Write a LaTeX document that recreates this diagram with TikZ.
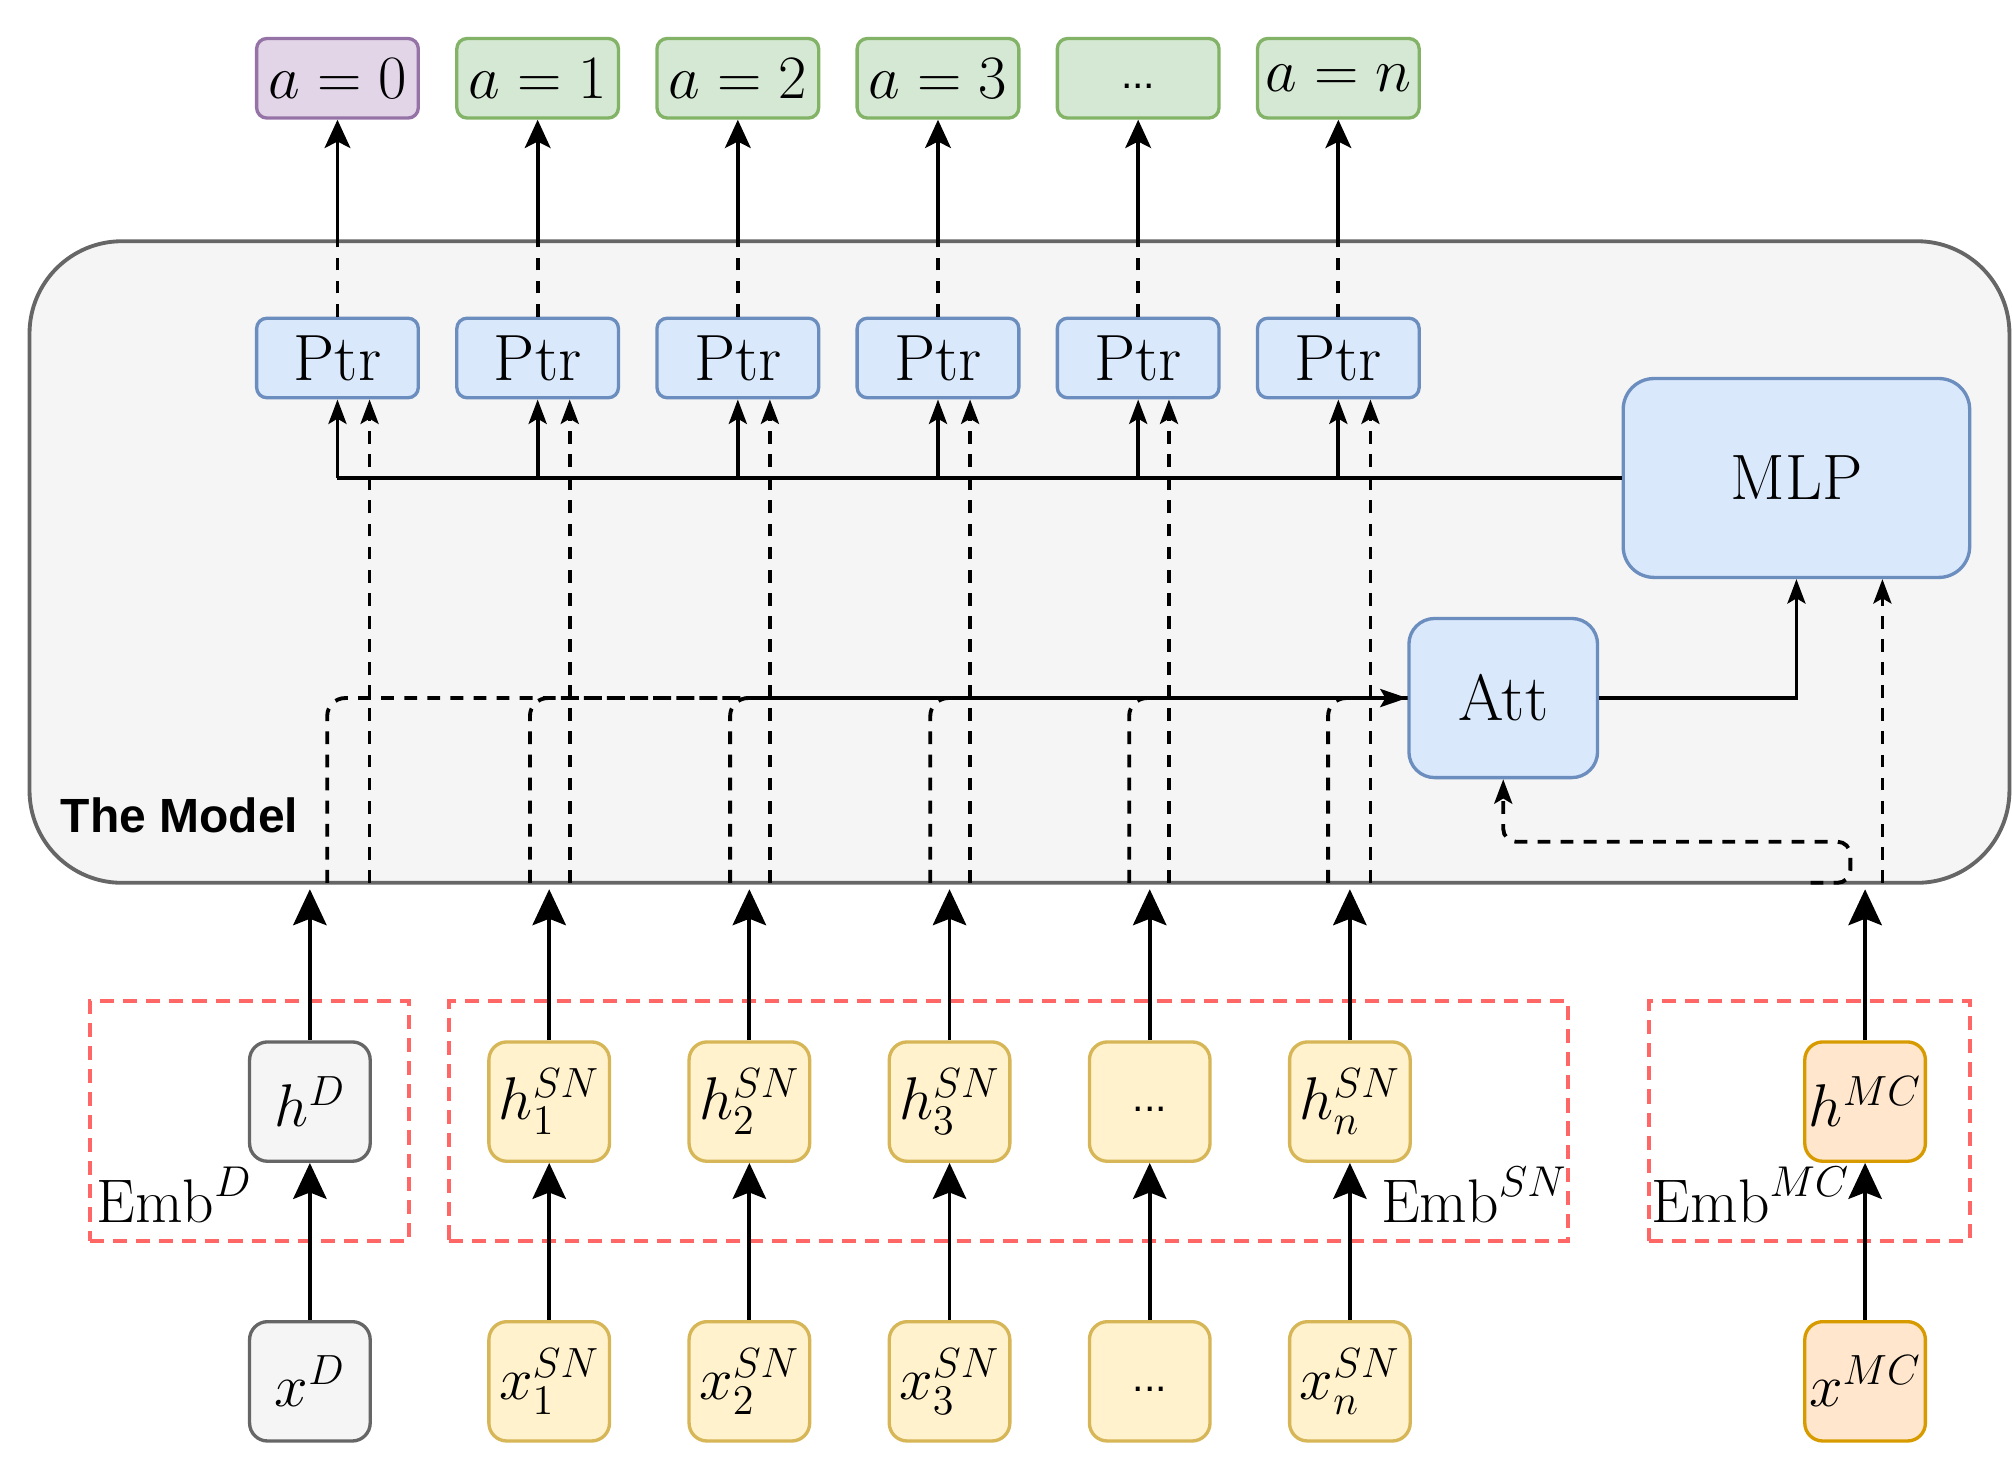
\RequirePackage{fix-cm}
\documentclass[tikz,border=0pt]{standalone}
\usepackage{fontspec}
\newfontfamily\sansf{Liberation Sans}
\usetikzlibrary{arrows.meta}
\definecolor{purpF}{HTML}{E1D5E7}\definecolor{purpD}{HTML}{9673A6}
\definecolor{greenF}{HTML}{D5E8D4}\definecolor{greenD}{HTML}{82B366}
\definecolor{blueF}{HTML}{DAE8FC}\definecolor{blueD}{HTML}{6C8EBF}
\definecolor{grayF}{HTML}{F5F5F5}\definecolor{grayD}{HTML}{666666}
\definecolor{yelF}{HTML}{FFF2CC}\definecolor{yelD}{HTML}{D6B656}
\definecolor{oraF}{HTML}{FFE6CC}\definecolor{oraD}{HTML}{D79B00}
\definecolor{redD}{HTML}{FF6666}
\begin{document}
\begin{tikzpicture}[x=0.5pt,y=-0.5pt,
  mfont/.style={font=\fontsize{24}{28}\selectfont},
  bx/.style={draw, line width=1.3pt, inner sep=0pt, font=\fontsize{24}{28}\selectfont},
  outbox/.style={bx, rounded corners=4pt, minimum width=63pt, minimum height=31pt},
  outP/.style={outbox, draw=purpD, fill=purpF},
  outG/.style={outbox, draw=greenD, fill=greenF},
  ptrbox/.style={outbox, draw=blueD, fill=blueF, font=\fontsize{25.5}{30}\selectfont},
  colbox/.style={bx, rounded corners=7pt, minimum width=47pt, minimum height=46.5pt, font=\fontsize{23.5}{28}\selectfont},
  grayb/.style={colbox, draw=grayD, fill=grayF},
  yelb/.style={colbox, draw=yelD, fill=yelF},
  orab/.style={colbox, draw=oraD, fill=oraF},
  ln/.style={line width=1.5pt},
  dsh/.style={line width=1.5pt, dash pattern=on 5pt off 4pt},
  tipBig/.style={-{Stealth[length=14pt,width=13pt,inset=2.5pt]}},
  tipTop/.style={-{Stealth[length=11pt,width=10pt,inset=2.5pt]}},
  tipSm/.style={-{Stealth[length=9.5pt,width=7pt,inset=2pt]}},
  tipAtt/.style={-{Stealth[length=10.5pt,width=7pt,inset=2pt]}},
  emb/.style={draw=redD, line width=1.6pt, dash pattern=on 5.5pt off 3.5pt, inner sep=0pt},
  dots/.style={font=\sansf\fontsize{16}{19}\selectfont},
]
\useasboundingbox (0,0) rectangle (1568,1144);

% container
\node[draw=grayD, fill=grayF, line width=1.5pt, rounded corners=36pt,
      minimum width=771.5pt, minimum height=250pt, inner sep=0pt] (model) at (794.5,438) {};
\node[anchor=base west, inner sep=0pt, font=\sansf\bfseries\fontsize{18.7}{22}\selectfont] (lbl) at (47,649) {The Model};

% outputs
\node[outP] (A0) at (263,61) {$a=0$};
\node[outG] (A1) at (419,61) {$a=1$};
\node[outG] (A2) at (575,61) {$a=2$};
\node[outG] (A3) at (731,61) {$a=3$};
\node[outG, dots] (A4) at (887,61) {\raisebox{-2.5pt}{\vphantom{Ay}...}};
\node[outG] (A5) at (1043,61) {$a=n$};

% pointer nodes
\foreach \i/\c in {0/263,1/419,2/575,3/731,4/887,5/1043}{
  \node[ptrbox] (P\i) at (\c,279) {Ptr};
}
\node[bx, draw=blueD, fill=blueF, rounded corners=12pt, minimum width=135pt, minimum height=77.5pt, font=\fontsize{25}{30}\selectfont] (MLP) at (1400,372.5) {MLP};
\node[bx, draw=blueD, fill=blueF, rounded corners=10pt, minimum width=73.5pt, minimum height=62pt, font=\fontsize{25.5}{30}\selectfont] (Att) at (1171.5,544) {Att};

% embedding boxes
\node[emb, minimum width=124.5pt, minimum height=93.5pt] (embD) at (194.5,873.5) {};
\node[emb, minimum width=436pt, minimum height=93.5pt] (embSN) at (786,873.5) {};
\node[emb, minimum width=125pt, minimum height=93.5pt] (embMC) at (1410,873.5) {};
\node[anchor=base west, inner sep=0pt, mfont] (lD) at (75,953) {$\mathrm{Emb}^D$};
\node[anchor=base west, inner sep=0pt, mfont] (lSN) at (1076,953) {$\mathrm{Emb}^{SN}$};
\node[anchor=base west, inner sep=0pt, mfont] (lMC) at (1287,953) {$\mathrm{Emb}^{MC}$};

% column nodes
\node[grayb] (hD) at (241.5,858.5) {$h^D$};
\node[grayb] (xD) at (241.5,1076.5) {$x^D$};
\node[yelb] (h1) at (428,858.5) {$h_1^{SN}$};
\node[yelb] (x1) at (428,1076.5) {$x_1^{SN}$};
\node[yelb] (h2) at (584,858.5) {$h_2^{SN}$};
\node[yelb] (x2) at (584,1076.5) {$x_2^{SN}$};
\node[yelb] (h3) at (740,858.5) {$h_3^{SN}$};
\node[yelb] (x3) at (740,1076.5) {$x_3^{SN}$};
\node[yelb, dots] (h4) at (896,858.5) {\raisebox{-1.5pt}{\vphantom{Ay}...}};
\node[yelb, dots] (x4) at (896,1076.5) {\raisebox{-1.5pt}{\vphantom{Ay}...}};
\node[yelb] (h5) at (1052,858.5) {$h_n^{SN}$};
\node[yelb] (x5) at (1052,1076.5) {$x_n^{SN}$};
\node[orab] (hMC) at (1453.5,858.5) {$h^{MC}$};
\node[orab] (xMC) at (1453.5,1076.5) {$x^{MC}$};

\coordinate (tipY) at (0,693);
\foreach \n in {D,1,2,3,4,5,MC}{
  \draw[ln,tipBig] (x\n.north) -- (h\n.south);
  \draw[ln,tipBig] (h\n.north) -- (h\n.north |- tipY);
}

% Ptr to outputs
\foreach \i in {0,...,5}{
  \draw[dsh] (P\i.north) -- (P\i.north |- model.north);
  \draw[ln,tipTop] (P\i.north |- model.north) -- (A\i.south);
}

% bus from MLP
\draw[ln] (P0.south |- MLP.west) -- (MLP.west);
\foreach \i in {0,...,5}{
  \draw[ln,tipSm] (P\i.south |- MLP.west) -- (P\i.south);
}

% dashed inputs to Ptr
\foreach \i/\x in {0/288,1/444,2/600,3/756,4/911,5/1068}{
  \coordinate (b\i) at (\x,688);
  \draw[dsh,tipSm] (b\i) -- (b\i |- P\i.south);
}

% dashed inputs to Att
\foreach \i/\x in {0/255,1/413,2/569,3/725,4/880,5/1035}{
  \coordinate (s\i) at (\x,688);
  \draw[dsh, rounded corners=7pt] (s\i) |- (Att.west);
}
\draw[ln,tipAtt] ([xshift=-11pt]Att.west) -- (Att.west);

% Att -> MLP
\draw[ln,tipSm] (Att.east) -| (MLP.south);

% MC to MLP and Att
\coordinate (m0) at (1411,688);
\coordinate (m1) at (1442,656);
\coordinate (m2) at (1467,688);
\draw[dsh,tipSm] (m2) -- (m2 |- MLP.south);
\draw[dsh,tipSm, rounded corners=5pt] (m0) -| (m1) -| (Att.south);
\end{tikzpicture}
\end{document}
